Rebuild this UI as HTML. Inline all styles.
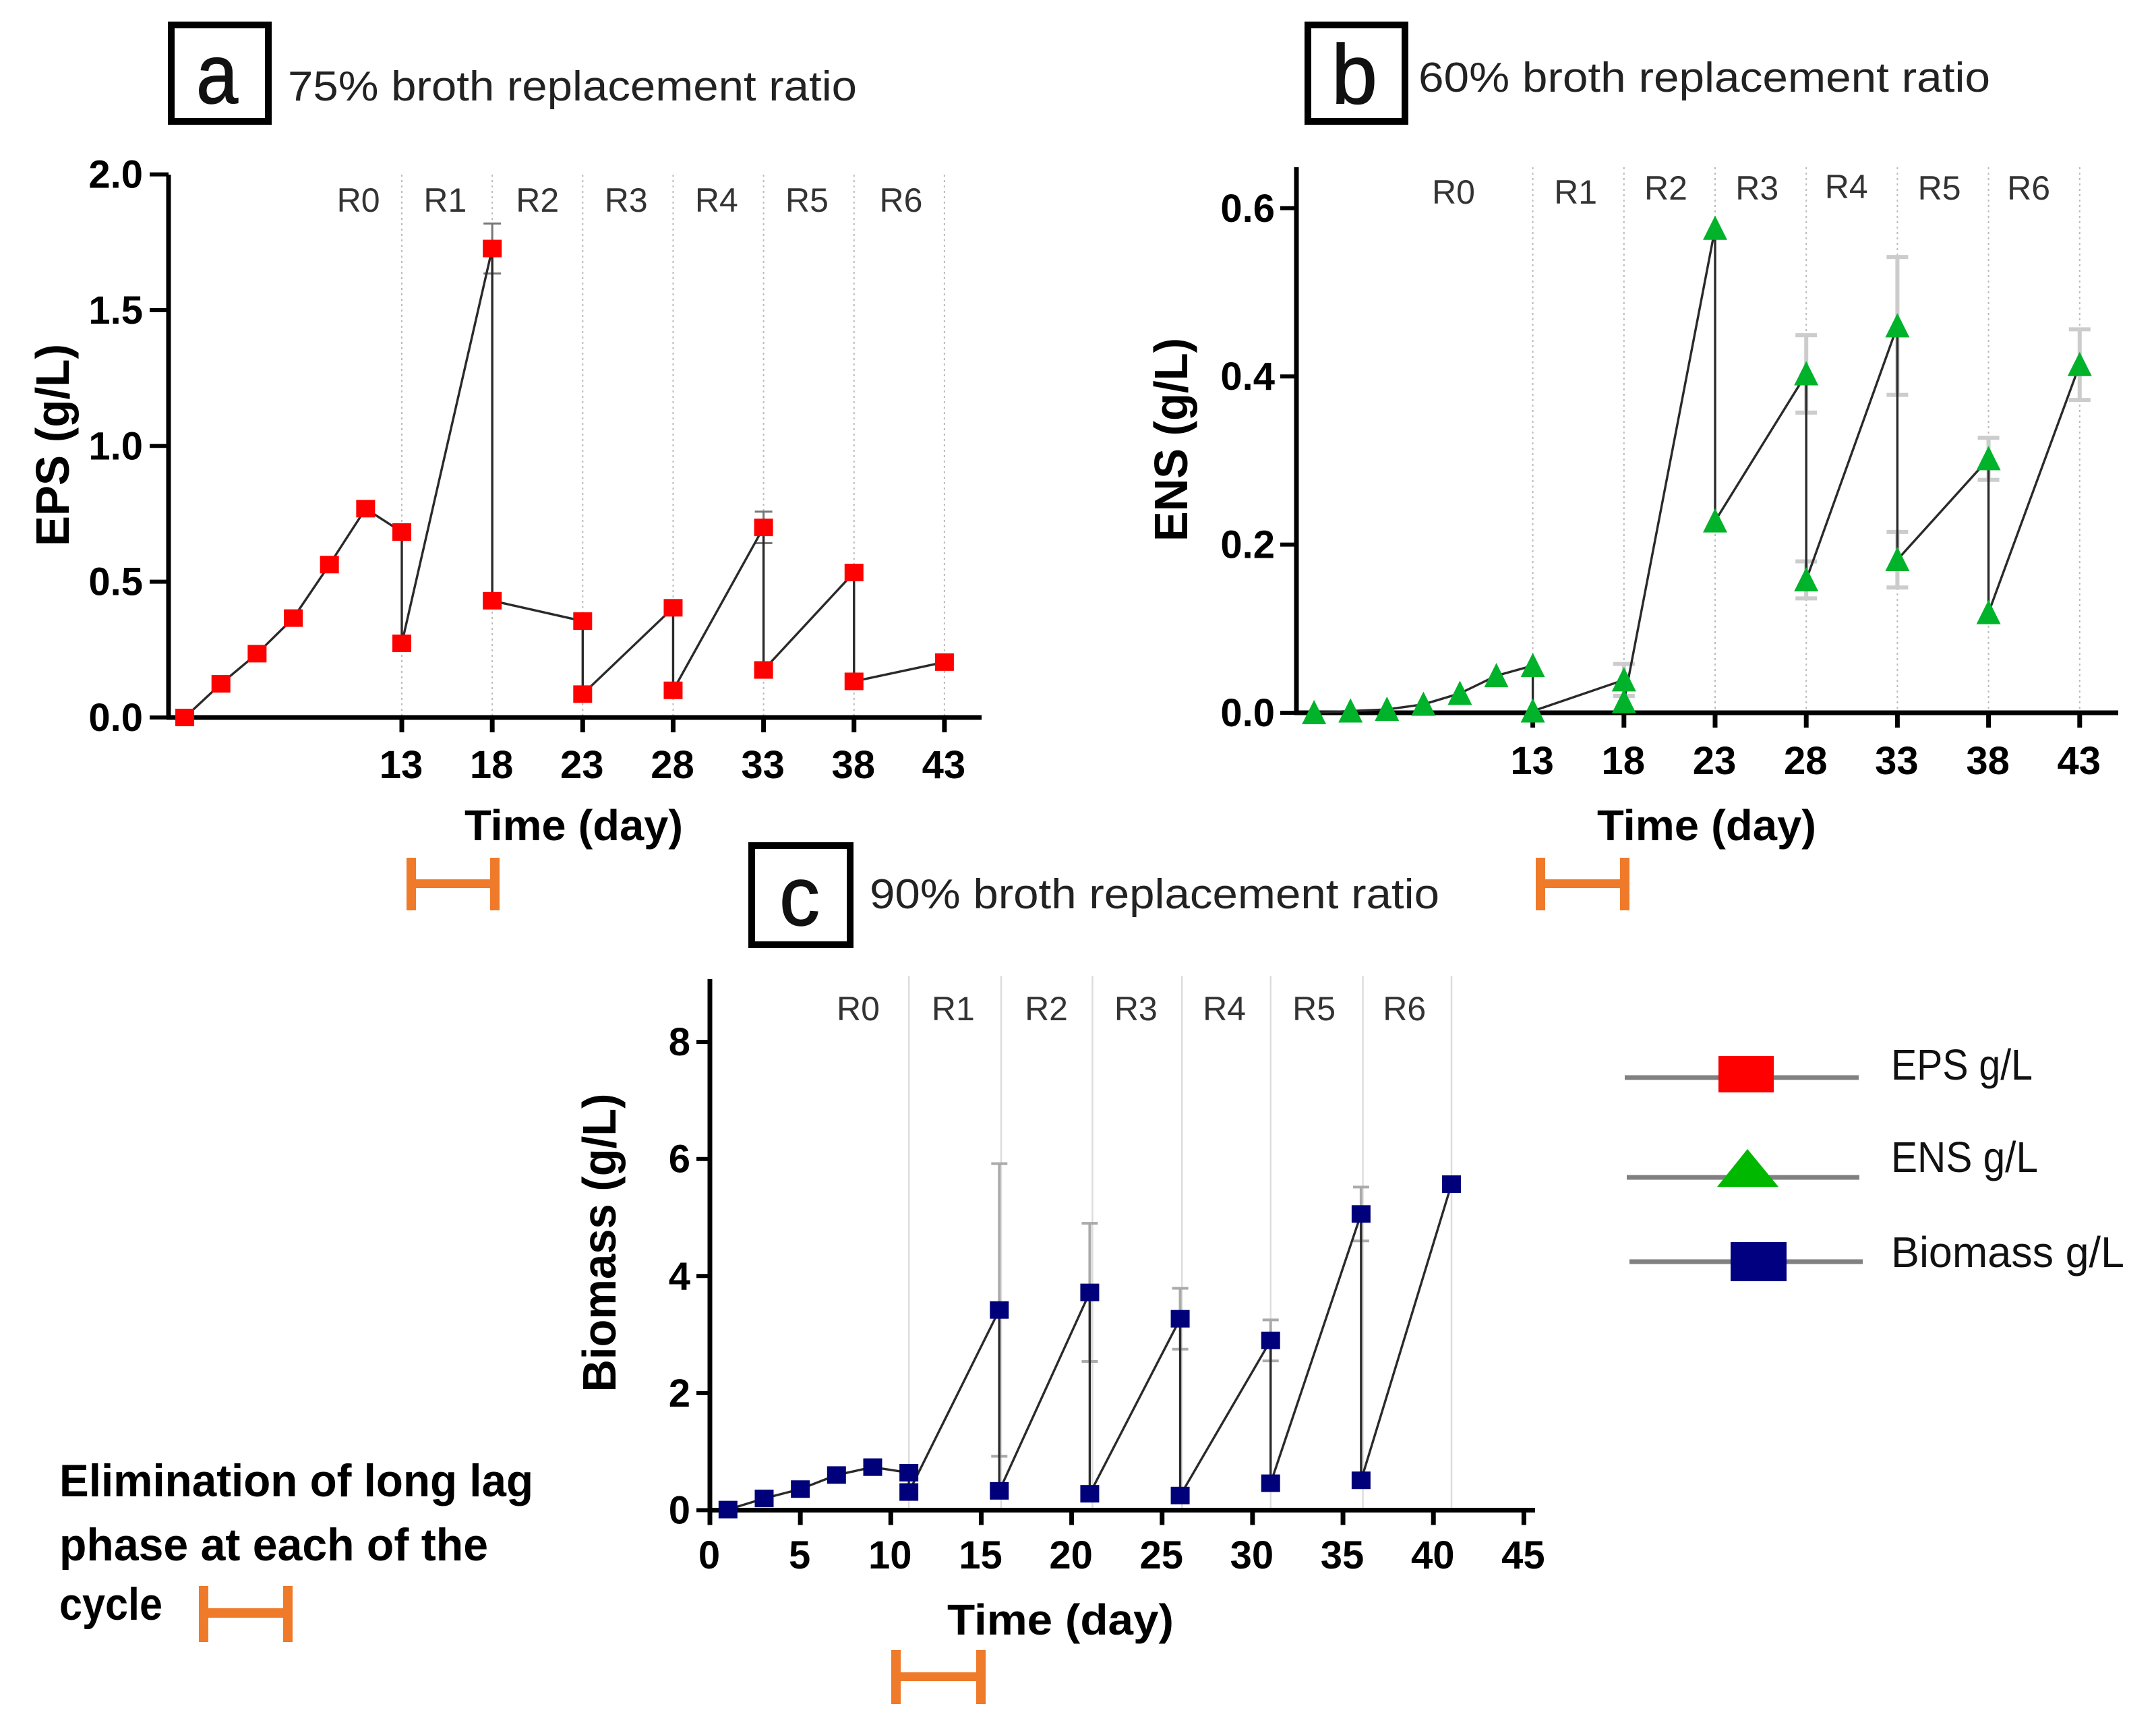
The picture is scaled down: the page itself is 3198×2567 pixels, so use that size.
<!DOCTYPE html>
<html>
<head>
<meta charset="utf-8">
<title>Broth replacement ratio charts</title>
<style>
html,body{margin:0;padding:0;background:#fff;}
svg{display:block;font-family:"Liberation Sans",sans-serif;}
</style>
</head>
<body>
<svg id="figure" xmlns="http://www.w3.org/2000/svg" width="3198" height="2567" viewBox="0 0 3198 2567">
  <rect x="0" y="0" width="3198" height="2567" fill="#fff"/>

  <g>
    <rect x="254" y="37" width="144" height="143" fill="none" stroke="#000" stroke-width="10"/>
    <text x="291" y="153" font-size="124" textLength="62" lengthAdjust="spacingAndGlyphs" fill="#111" stroke="#111" stroke-width="1.5">a</text>
    <text x="427" y="149" font-size="62" textLength="844" lengthAdjust="spacingAndGlyphs" fill="#222">75% broth replacement ratio</text>
  </g>
  <g>
    <rect x="1940" y="37" width="144" height="143" fill="none" stroke="#000" stroke-width="10"/>
    <text x="1975" y="153" font-size="124" textLength="68" lengthAdjust="spacingAndGlyphs" fill="#111" stroke="#111" stroke-width="1.5">b</text>
    <text x="2104" y="136" font-size="62" textLength="848" lengthAdjust="spacingAndGlyphs" fill="#222">60% broth replacement ratio</text>
  </g>
  <g>
    <rect x="1115" y="1254" width="146" height="147" fill="none" stroke="#000" stroke-width="10"/>
    <text x="1156" y="1372" font-size="124" textLength="60" lengthAdjust="spacingAndGlyphs" fill="#111" stroke="#111" stroke-width="1.5">c</text>
    <text x="1290" y="1347" font-size="62" textLength="845" lengthAdjust="spacingAndGlyphs" fill="#222">90% broth replacement ratio</text>
  </g>

  <g fill="#ee7a2a">
    <rect x="603" y="1272" width="14" height="78"/><rect x="727" y="1272" width="14" height="78"/><rect x="603" y="1304" width="138" height="13"/>
  </g>
  <g fill="#ee7a2a">
    <rect x="2278" y="1272" width="14" height="78"/><rect x="2403" y="1272" width="14" height="78"/><rect x="2278" y="1304" width="139" height="13"/>
  </g>
  <g fill="#ee7a2a">
    <rect x="1322" y="2447" width="14" height="80"/><rect x="1448" y="2447" width="14" height="80"/><rect x="1322" y="2480" width="140" height="13"/>
  </g>

  <g>
    <text x="88" y="2219" font-size="68" font-weight="bold" textLength="703" lengthAdjust="spacingAndGlyphs" fill="#000">Elimination of long lag</text>
    <text x="88" y="2314" font-size="68" font-weight="bold" textLength="636" lengthAdjust="spacingAndGlyphs" fill="#000">phase at each of the</text>
    <text x="88" y="2402" font-size="68" font-weight="bold" textLength="153" lengthAdjust="spacingAndGlyphs" fill="#000">cycle</text>
    <g fill="#ee7a2a">
      <rect x="295" y="2352" width="14" height="83"/><rect x="420" y="2352" width="14" height="83"/><rect x="295" y="2385" width="139" height="14"/>
    </g>
  </g>

  <g>
    <g>
      <line x1="2410" y1="1598" x2="2757" y2="1598" stroke="#808080" stroke-width="7"/>
      <rect x="2549" y="1566" width="82" height="54" fill="#ff0000"/>
      <text x="2805" y="1601" font-size="64" textLength="210" lengthAdjust="spacingAndGlyphs" fill="#111">EPS g/L</text>
    </g>
    <g>
      <line x1="2413" y1="1746" x2="2758" y2="1746" stroke="#808080" stroke-width="7"/>
      <polygon points="2592,1704 2638,1760 2547,1760" fill="#00b800"/>
      <text x="2805" y="1738" font-size="64" textLength="218" lengthAdjust="spacingAndGlyphs" fill="#111">ENS g/L</text>
    </g>
    <g>
      <line x1="2417" y1="1871" x2="2763" y2="1871" stroke="#808080" stroke-width="7"/>
      <rect x="2567" y="1842" width="83" height="58" fill="#000080"/>
      <text x="2805" y="1879" font-size="64" textLength="346" lengthAdjust="spacingAndGlyphs" fill="#111">Biomass g/L</text>
    </g>
  </g>

  <g id="plots"></g>
</svg>
<script>
// Panel a: EPS
const epsDays = [1,3,5,7,9,11,13,13,18,18,23,23,28,28,33,33,38,38,43];
const epsValues = [0,0.124,0.235,0.366,0.563,0.769,0.683,0.273,1.727,0.43,0.355,0.086,0.404,0.10,0.70,0.175,0.534,0.133,0.204];
const epsErrors = [0,0,0,0,0,0,0,0,0.092,0,0,0,0,0,0.058,0,0,0,0];
const epsYTicks = [0,0.5,1,1.5,2];
const epsYLabels = ['0.0','0.5','1.0','1.5','2.0'];
const epsXTicks = [13,18,23,28,33,38,43];
const epsGuides = [13,18,23,28,33,38,43];
const epsCycleDays = [10.6,15.4,20.5,25.4,30.4,35.4,40.6];

// Panel b: ENS
const ensDays = [1,3,5,7,9,11,13,13,18,18,23,23,28,28,33,33,38,38,43];
const ensValues = [0,0.002,0.004,0.01,0.023,0.044,0.056,0.002,0.039,0.013,0.576,0.228,0.403,0.158,0.46,0.182,0.302,0.119,0.414];
const ensErrors = [0,0,0,0,0,0,0,0,0.019,0,0,0,0.046,0.022,0.082,0.033,0.025,0,0.042];
const ensYTicks = [0,0.2,0.4,0.6];
const ensYLabels = ['0.0','0.2','0.4','0.6'];
const ensXTicks = [13,18,23,28,33,38,43];
const ensGuides = [13,18,23,28,33,38,43];
const ensCycleDays = [8.65,15.35,20.3,25.3,30.2,35.3,40.2];

// Panel c: Biomass
const bioDays = [1,3,5,7,9,11,11,16,16,21,21,26,26,31,31,36,36,41];
const bioValues = [0.01,0.2,0.36,0.6,0.735,0.64,0.31,3.42,0.33,3.72,0.28,3.27,0.25,2.9,0.46,5.06,0.51,5.57];
const bioErrors = [0,0,0,0,0,0,0,2.5,0,1.18,0,0.52,0,0.35,0,0.46,0,0];
const bioYTicks = [0,2,4,6,8];
const bioYLabels = ['0','2','4','6','8'];
const bioXTicks = [0,5,10,15,20,25,30,35,40,45];
const bioGuides = [11,16.1,21.15,26.1,31,36.1,41];
const bioCycleDays = [8.2,13.45,18.6,23.55,28.44,33.4,38.4];

const cycleNames = ['R0','R1','R2','R3','R4','R5','R6'];

const NS = 'http://www.w3.org/2000/svg';
const plots = document.getElementById('plots');

function el(parent, tag, attrs, text) {
  const e = document.createElementNS(NS, tag);
  for (const k in attrs) e.setAttribute(k, attrs[k]);
  if (text !== undefined) e.textContent = text;
  parent.appendChild(e);
  return e;
}

function drawPanel(cfg) {
  const xOf = d => cfg.xRef + (d - cfg.dayRef) * cfg.perDay;
  const yOf = v => cfg.y0 - v * cfg.perUnit;

  const g = el(plots, 'g', {});
  
  

  cfg.guides.forEach(d => {
    const guide = el(g, 'line', {x1: xOf(d), x2: xOf(d), y1: cfg.guideTop, y2: cfg.y0, stroke: cfg.guideColor, 'stroke-width': cfg.guideWidth, 'stroke-dasharray': cfg.guideDash});
    
    
  });

  const yAxis = el(g, 'line', {x1: cfg.x0, x2: cfg.x0, y1: cfg.yTop, y2: cfg.y0 + 3, stroke: '#000', 'stroke-width': 7});
  
  
  const xAxis = el(g, 'line', {x1: cfg.x0 - 3, x2: cfg.xEnd, y1: cfg.y0, y2: cfg.y0, stroke: '#000', 'stroke-width': 7});
  
  

  cfg.yTicks.forEach((v, i) => {
    const tick = el(g, 'line', {x1: cfg.x0 - cfg.yTickLen, x2: cfg.x0, y1: yOf(v), y2: yOf(v), stroke: '#000', 'stroke-width': 6});
    
    
    const lab = el(g, 'text', {x: cfg.yLabelRight, y: yOf(v) + 20, 'text-anchor': 'end', 'font-size': 58, 'font-weight': 'bold', fill: '#000'}, cfg.yLabels[i]);
    
    
  });

  cfg.xTicks.forEach(d => {
    const tick = el(g, 'line', {x1: xOf(d), x2: xOf(d), y1: cfg.y0, y2: cfg.y0 + 22, stroke: '#000', 'stroke-width': 7});
    
    
    const lab = el(g, 'text', {x: xOf(d) - 1, y: cfg.xLabelY, 'text-anchor': 'middle', 'font-size': 58, 'font-weight': 'bold', fill: '#000'}, String(d));
    
    
  });

  cfg.cycleDays.forEach((d, i) => {
    const lab = el(g, 'text', {x: xOf(d), y: cfg.cycleYs[i], 'text-anchor': 'middle', 'font-size': 50, fill: '#333'}, cycleNames[i]);
    
    
  });

  const yTitle = el(g, 'text', {transform: 'translate(' + cfg.yTitleX + ' ' + cfg.yTitleY + ') rotate(-90)', 'text-anchor': 'middle', 'font-size': 70, 'font-weight': 'bold', textLength: cfg.yTitleLen, lengthAdjust: 'spacingAndGlyphs', fill: '#000'}, cfg.yTitle);
  
  
  const xTitle = el(g, 'text', {x: cfg.xTitleX, y: cfg.xTitleY, 'font-size': 64, 'font-weight': 'bold', textLength: cfg.xTitleLen, lengthAdjust: 'spacingAndGlyphs', fill: '#000'}, 'Time (day)');
  
  

  cfg.days.forEach((d, i) => {
    const e = cfg.errors[i];
    if (!e) return;
    const x = xOf(d), hi = yOf(cfg.values[i] + e), lo = yOf(cfg.values[i] - e);
    const bar = el(g, 'path', {d: 'M' + x + ' ' + hi + 'V' + lo + 'M' + (x - cfg.capHalf) + ' ' + hi + 'H' + (x + cfg.capHalf) + 'M' + (x - cfg.capHalf) + ' ' + lo + 'H' + (x + cfg.capHalf), fill: 'none', stroke: cfg.errColor, 'stroke-width': cfg.errWidth});
    
    
  });

  const pts = cfg.days.map((d, i) => xOf(d) + ',' + yOf(cfg.values[i])).join(' ');
  const line = el(g, 'polyline', {points: pts, fill: 'none', stroke: '#2a2a2a', 'stroke-width': 3.4});
  
  

  cfg.days.forEach((d, i) => {
    const x = xOf(d), y = yOf(cfg.values[i]);
    let mark;
    if (cfg.marker === 'triangle') {
      mark = el(g, 'polygon', {points: x + ',' + (y - 19) + ' ' + (x + 18) + ',' + (y + 17) + ' ' + (x - 18) + ',' + (y + 17), fill: cfg.color});
    } else {
      mark = el(g, 'rect', {x: x - 14, y: y - 13, width: 28, height: 26, fill: cfg.color});
    }
    
    
  });
}

drawPanel({
  id: 'eps', days: epsDays, values: epsValues, errors: epsErrors,
  yTicks: epsYTicks, yLabels: epsYLabels, xTicks: epsXTicks, guides: epsGuides, cycleDays: epsCycleDays,
  xRef: 596, dayRef: 13, perDay: 26.83, x0: 250, xEnd: 1456, y0: 1064, yTop: 259, perUnit: 402.7,
  yTickLen: 28, yLabelRight: 212, xLabelY: 1154, cycleYs: [314,314,314,314,314,314,314], guideTop: 259,
  guideColor: '#bbb', guideWidth: 2, guideDash: '3 5',
  yTitle: 'EPS (g/L)', yTitleX: 102, yTitleY: 660, yTitleLen: 300,
  xTitleX: 689, xTitleY: 1246, xTitleLen: 324,
  capHalf: 13, errColor: '#777', errWidth: 3, marker: 'square', color: '#ff0000'
});
drawPanel({
  id: 'ens', days: ensDays, values: ensValues, errors: ensErrors,
  yTicks: ensYTicks, yLabels: ensYLabels, xTicks: ensXTicks, guides: ensGuides, cycleDays: ensCycleDays,
  xRef: 2273.6, dayRef: 13, perDay: 27.04, x0: 1923, xEnd: 3142, y0: 1057, yTop: 248, perUnit: 1247,
  yTickLen: 24, yLabelRight: 1891, xLabelY: 1148, cycleYs: [302,302,296,296,294,296,296], guideTop: 248,
  guideColor: '#bbb', guideWidth: 2, guideDash: '3 5',
  yTitle: 'ENS (g/L)', yTitleX: 1761, yTitleY: 652, yTitleLen: 302,
  xTitleX: 2369, xTitleY: 1246, xTitleLen: 325,
  capHalf: 16, errColor: '#ccc', errWidth: 6, marker: 'triangle', color: '#00b32a'
});
drawPanel({
  id: 'biomass', days: bioDays, values: bioValues, errors: bioErrors,
  yTicks: bioYTicks, yLabels: bioYLabels, xTicks: bioXTicks, guides: bioGuides, cycleDays: bioCycleDays,
  xRef: 1053, dayRef: 0, perDay: 26.83, x0: 1053, xEnd: 2277, y0: 2239.5, yTop: 1452, perUnit: 86.8,
  yTickLen: 20, yLabelRight: 1024, xLabelY: 2326, cycleYs: [1513,1513,1513,1513,1513,1513,1513], guideTop: 1447,
  guideColor: '#ddd', guideWidth: 2.5, guideDash: 'none',
  yTitle: 'Biomass (g/L)', yTitleX: 913, yTitleY: 1843, yTitleLen: 443,
  xTitleX: 1405, xTitleY: 2424, xTitleLen: 336,
  capHalf: 12, errColor: '#aaa', errWidth: 4, marker: 'square', color: '#00007a'
});
</script>
</body>
</html>
